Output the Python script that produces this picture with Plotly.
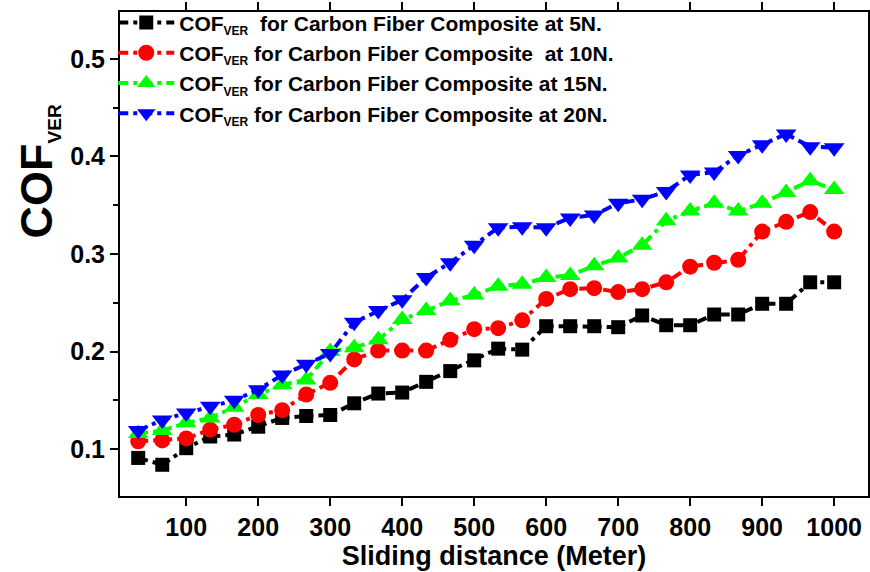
import plotly.graph_objects as go

distance = [33.3, 66.7, 100, 133.3, 166.7, 200, 233.3, 266.7, 300, 333.3,
            366.7, 400, 433.3, 466.7, 500, 533.3, 566.7, 600, 633.3, 666.7,
            700, 733.3, 766.7, 800, 833.3, 866.7, 900, 933.3, 966.7, 1000]

cof_5n = [0.091, 0.084, 0.101, 0.113, 0.115, 0.123, 0.132, 0.134, 0.135, 0.147,
          0.157, 0.158, 0.169, 0.180, 0.191, 0.203, 0.202, 0.226, 0.226, 0.226,
          0.225, 0.237, 0.227, 0.227, 0.238, 0.238, 0.249, 0.249, 0.271, 0.271]

cof_10n = [0.108, 0.109, 0.111, 0.120, 0.125, 0.135, 0.140, 0.156, 0.168, 0.192,
           0.201, 0.201, 0.201, 0.212, 0.223, 0.224, 0.232, 0.254, 0.264, 0.265,
           0.261, 0.264, 0.271, 0.287, 0.291, 0.294, 0.323, 0.333, 0.343, 0.323]

cof_15n = [0.116, 0.119, 0.127, 0.132, 0.143, 0.156, 0.166, 0.171, 0.200, 0.204,
           0.212, 0.233, 0.242, 0.252, 0.258, 0.267, 0.269, 0.276, 0.278, 0.288,
           0.296, 0.309, 0.334, 0.344, 0.352, 0.344, 0.352, 0.363, 0.375, 0.366]

cof_20n = [0.119, 0.130, 0.137, 0.144, 0.150, 0.161, 0.176, 0.187, 0.198, 0.230,
           0.242, 0.253, 0.276, 0.291, 0.309, 0.327, 0.328, 0.327, 0.337, 0.340,
           0.352, 0.356, 0.364, 0.381, 0.384, 0.401, 0.412, 0.423, 0.410, 0.409]

sub = "<sub><span style='font-size:12px'>VER</span></sub>"
names = [
    "COF" + sub + "&nbsp;&nbsp;for Carbon Fiber Composite at 5N.",
    "COF" + sub + " for Carbon Fiber Composite&nbsp;&nbsp;at 10N.",
    "COF" + sub + " for Carbon Fiber Composite at 15N.",
    "COF" + sub + " for Carbon Fiber Composite at 20N.",
]
series = [cof_5n, cof_10n, cof_15n, cof_20n]
colors = ["#000000", "#FF0000", "#00FF00", "#0000FF"]
symbols = ["square", "circle", "triangle-up", "triangle-down"]
sizes = [14, 16, 18, 18]

FONT = "Arial, Liberation Sans, sans-serif"

fig = go.Figure()
for name, ys, c, s, sz in zip(names, series, colors, symbols, sizes):
    fig.add_trace(go.Scatter(
        x=distance, y=ys, name=name, mode="lines+markers",
        line=dict(color=c, width=4, dash="10px,5px,4px,5px"),
        marker=dict(symbol=s, size=sz, color=c, line=dict(width=0)),
    ))

axis_common = dict(
    showline=True, linecolor="black", linewidth=2, mirror="ticks",
    ticks="outside", ticklen=8, tickwidth=1.5, tickcolor="black",
    showgrid=False, zeroline=False, automargin=False,
    tickfont=dict(family=FONT, size=25, color="black", weight="bold"),
)

fig.update_xaxes(
    range=[8, 1047], tickvals=[100, 200, 300, 400, 500, 600, 700, 800, 900, 1000],
    title=dict(text="Sliding distance (Meter)", standoff=0,
               font=dict(family=FONT, size=27, color="black", weight="bold")),
    **axis_common,
)
fig.update_yaxes(
    range=[0.052, 0.548], tickvals=[0.1, 0.2, 0.3, 0.4, 0.5],
    ticktext=["0.1", "0.2", "0.3", "0.4", "0.5"],
    minor=dict(tickvals=[0.05, 0.15, 0.25, 0.35, 0.45], ticklen=5,
               tickwidth=1.5, tickcolor="black", ticks="outside"),
    **axis_common,
)

fig.add_annotation(
    text="COF<sub><span style='font-size:19px'>VER</span></sub>",
    xref="paper", yref="paper", x=-0.11, y=0.67,
    xanchor="center", yanchor="middle", textangle=-90, showarrow=False,
    font=dict(family=FONT, size=45, color="black", weight="bold"),
)

fig.update_layout(
    width=870, height=572,
    margin=dict(l=120, r=2, t=10, b=76),
    paper_bgcolor="white", plot_bgcolor="white",
    legend=dict(x=-0.009, y=1.02, xanchor="left", yanchor="top",
                bgcolor="rgba(0,0,0,0)", borderwidth=0,
                font=dict(family=FONT, size=21, color="black", weight="bold"),
                tracegroupgap=0, itemwidth=56),
    showlegend=True,
)

fig.write_html("out.html")
